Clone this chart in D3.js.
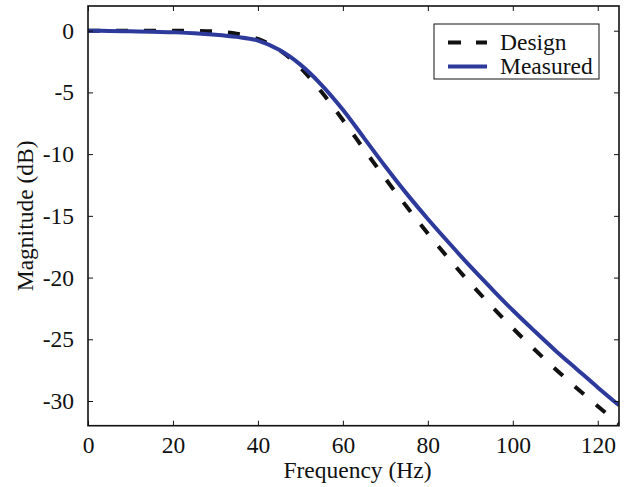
<!DOCTYPE html>
<html lang="en">
<head>
    <meta charset="UTF-8">
    <title>Magnitude response</title>
    <script src="https://d3js.org/d3.v7.min.js"></script>
</head>
<body style="margin:0">
    <div id="container"></div>

    <script>

        // data
        const freq = [0, 5, 10, 15, 20, 25, 30, 35, 40, 45, 50, 55, 60, 65, 70, 75, 80, 85, 90, 95, 100, 105, 110, 115, 120, 125];
        const design = [0, 0, 0, 0, 0, -0.02, -0.07, -0.24, -0.67, -1.56, -3.0, -4.97, -7.24, -9.62, -11.98, -14.25, -16.43, -18.5, -20.46, -22.32, -24.1, -25.79, -27.4, -28.94, -30.42, -31.84];
        const measured = [0, -0.02, -0.05, -0.08, -0.13, -0.2, -0.32, -0.5, -0.8, -1.55, -2.75, -4.4, -6.4, -8.7, -11.0, -13.2, -15.25, -17.2, -19.1, -20.9, -22.65, -24.3, -25.9, -27.4, -28.9, -30.35];
        const xTicks = [0, 20, 40, 60, 80, 100, 120];
        const yTicks = [0, -5, -10, -15, -20, -25, -30];
        const seriesNames = ['Design', 'Measured'];

        const width = 629, height = 487;
        const margin = {top: 6, right: 10, bottom: 61.3, left: 88};
        const fontSize = 23.5;
        const fam = 'Serif';
        const font = `"Liberation ${fam}"`;

        const svg = d3.select('#container').append('svg')
            .attr('width', width)
            .attr('height', height);

        const x = d3.scaleLinear().domain([0, 125]).range([margin.left, width - margin.right]);
        const y = d3.scaleLinear().domain([-32, 2]).range([height - margin.bottom, margin.top]);

        svg.append('clipPath').attr('id', 'plotClip')
            .append('rect')
            .attr('x', x(0)).attr('y', y(2))
            .attr('width', x(125) - x(0)).attr('height', y(-32) - y(2));

        // curves
        const line = d3.line()
            .x(d => x(d[0]))
            .y(d => y(d[1]))
            .curve(d3.curveCatmullRom);

        const plot = svg.append('g').attr('clip-path', 'url(#plotClip)');

        plot.append('path')
            .datum(freq.map((f, i) => [f, design[i]]))
            .attr('d', line)
            .attr('fill', 'none')
            .attr('stroke', '#111')
            .attr('stroke-width', 4)
            .attr('stroke-dasharray', '12,16');

        plot.append('path')
            .datum(freq.map((f, i) => [f, measured[i]]))
            .attr('d', line)
            .attr('fill', 'none')
            .attr('stroke', '#2d3a9b')
            .attr('stroke-width', 4);

        // axes with inward ticks on all four sides
        const tickLen = 5;
        const styleAxis = g => {
            g.attr('font-family', null).attr('font-size', null);
            g.select('.domain').remove();
            g.selectAll('.tick line').attr('stroke', '#111').attr('stroke-width', 1);
            g.selectAll('.tick text').attr('fill', '#111');
        };
        const hyphen = d => String(d);  // plain hyphen minus as in the original

        svg.append('g')
            .attr('transform', `translate(0,${y(-32)})`)
            .call(d3.axisBottom(x).tickValues(xTicks).tickSizeInner(-tickLen).tickSizeOuter(0).tickPadding(11).tickFormat(hyphen))
            .call(styleAxis);

        svg.append('g')
            .attr('transform', `translate(0,${y(2)})`)
            .call(d3.axisTop(x).tickValues(xTicks).tickSizeInner(-tickLen).tickSizeOuter(0).tickFormat(''))
            .call(styleAxis);

        svg.append('g')
            .attr('transform', `translate(${x(0)},0)`)
            .call(d3.axisLeft(y).tickValues(yTicks).tickSizeInner(-tickLen).tickSizeOuter(0).tickPadding(14).tickFormat(hyphen))
            .call(styleAxis);

        svg.append('g')
            .attr('transform', `translate(${x(125)},0)`)
            .call(d3.axisRight(y).tickValues(yTicks).tickSizeInner(-tickLen).tickSizeOuter(0).tickFormat(''))
            .call(styleAxis);

        // frame
        svg.append('rect')
            .attr('x', x(0)).attr('y', y(2))
            .attr('width', x(125) - x(0)).attr('height', y(-32) - y(2))
            .attr('fill', 'none')
            .attr('stroke', '#111')
            .attr('stroke-width', 1.6);

        // axis labels
        svg.append('text')
            .attr('x', (x(0) + x(125)) / 2 + 4)
            .attr('y', 478)
            .attr('text-anchor', 'middle')
            .attr('fill', '#111')
            .text('Frequency (Hz)');

        svg.append('text')
            .attr('transform', `translate(33,${(y(2) + y(-32)) / 2}) rotate(-90)`)
            .attr('text-anchor', 'middle')
            .attr('fill', '#111')
            .text('Magnitude (dB)');

        // legend
        const legend = svg.append('g').attr('transform', 'translate(434,24)');
        legend.append('rect')
            .attr('width', 165).attr('height', 55)
            .attr('fill', '#fff')
            .attr('stroke', '#111')
            .attr('stroke-width', 1);

        const legendStyles = [
            {stroke: '#111', dash: '13,15'},
            {stroke: '#2d3a9b', dash: null}
        ];

        seriesNames.forEach((name, i) => {
            const ly = 18.5 + i * 24;
            legend.append('line')
                .attr('x1', 14).attr('x2', 53)
                .attr('y1', ly).attr('y2', ly)
                .attr('stroke', legendStyles[i].stroke)
                .attr('stroke-width', 4)
                .attr('stroke-dasharray', legendStyles[i].dash);
            legend.append('text')
                .attr('x', 66)
                .attr('y', ly + 7)
                .attr('fill', '#111')
                .text(name);
        });

        // one font for every text
        svg.selectAll('text')
            .style('font-family', font)
            .style('font-size', fontSize + 'px');

    </script>
</body>
</html>
